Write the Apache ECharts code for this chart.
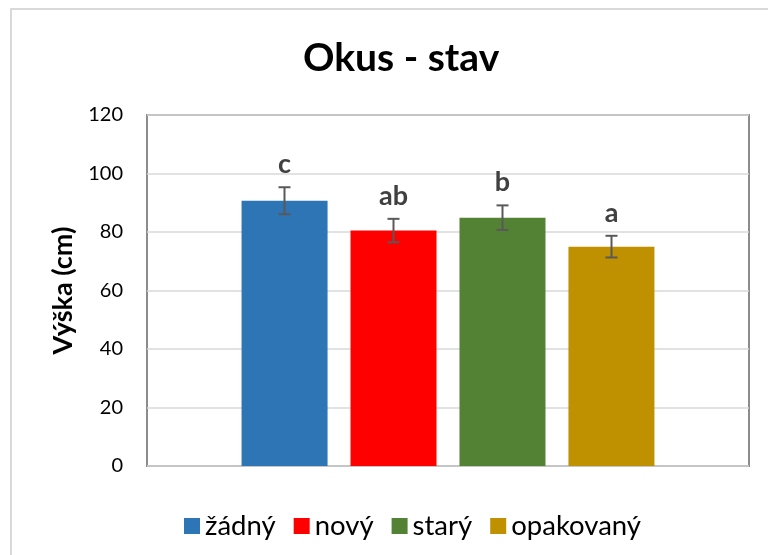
<!DOCTYPE html>
<html>
	<head>
		<meta charset="utf-8" />
		<title>Okus - stav</title>
		<script type="text/javascript" src="https://cdn.jsdelivr.net/npm/echarts@6/dist/echarts.min.js"></script>
	</head>
	<body style="margin:0;">
		<div id="chart" style="width:768px;height:555px;"></div>
	</body>
	<script>
	var groups = ['žádný', 'nový', 'starý', 'opakovaný'];
	var means = [90.7, 80.5, 84.9, 75.0];
	var errors = [4.6, 4.0, 4.2, 3.7];
	var letters = ['c', 'ab', 'b', 'a'];
	var colors = ['#2E75B6', '#FF0000', '#548235', '#BF9000'];
	var yTicks = [0, 120, 20];

	var barW = 86, barSpace = 23;
	var font = 'Lato, "Open Sans", sans-serif';

	var myChart = echarts.init(document.getElementById('chart'), null, { renderer: 'canvas' });

	var series = groups.map(function (name, i) {
		return {
			name: name,
			type: 'bar',
			data: [means[i]],
			barWidth: barW,
			barGap: (barSpace / barW * 100).toFixed(1) + '%',
			itemStyle: { color: colors[i] }
		};
	});

	// error bars + letters
	series.push({
		type: 'custom',
		z: 10,
		data: means.map(function (m, i) { return [i, m - errors[i], m + errors[i]]; }),
		renderItem: function (params, api) {
			var i = api.value(0);
			var lo = api.coord([0, api.value(1)]);
			var hi = api.coord([0, api.value(2)]);
			var x = lo[0] + (i - 1.5) * (barW + barSpace);
			var cap = 6;
			var st = { stroke: '#595959', lineWidth: 2 };
			return {
				type: 'group',
				children: [
					{ type: 'line', shape: { x1: x, y1: hi[1], x2: x, y2: lo[1] }, style: st },
					{ type: 'line', shape: { x1: x - cap, y1: hi[1], x2: x + cap, y2: hi[1] }, style: st },
					{ type: 'line', shape: { x1: x - cap, y1: lo[1], x2: x + cap, y2: lo[1] }, style: st },
					{ type: 'text', style: {
						text: letters[i], x: x, y: hi[1] - 23,
						align: 'center', verticalAlign: 'middle',
						font: 'bold 27px ' + font, fill: '#404040'
					} }
				]
			};
		}
	});

	var option = {
		animation: false,
		title: {
			text: 'Okus - stav',
			left: 298,
			top: 34,
			textStyle: { fontFamily: font, fontSize: 39, fontWeight: 'bold', color: '#000' }
		},
		legend: {
			data: groups,
			top: 507,
			left: 179,
			icon: 'rect',
			itemWidth: 16,
			itemHeight: 16,
			itemGap: 18,
			textStyle: { fontFamily: font, fontSize: 27.5, color: '#000' }
		},
		graphic: [{
			type: 'rect',
			shape: { x: 11, y: 9, width: 800, height: 600 },
			style: { fill: 'none', stroke: '#d9d9d9', lineWidth: 2 }
		}],
		grid: {
			left: 147, right: 19, top: 115, bottom: 89,
			show: true,
			borderColor: '#8c8c8c',
			borderWidth: 2
		},
		xAxis: {
			type: 'category',
			data: [''],
			axisLine: { show: false },
			axisTick: { show: false },
			axisLabel: { show: false }
		},
		yAxis: {
			type: 'value',
			min: yTicks[0],
			max: yTicks[1],
			interval: yTicks[2],
			name: 'Výška (cm)',
			nameLocation: 'middle',
			nameGap: 70,
			nameTextStyle: { fontFamily: font, fontSize: 27, fontWeight: 'bold', color: '#000' },
			axisLine: { show: false },
			axisTick: { show: false },
			axisLabel: { margin: 24, fontFamily: font, fontSize: 20, color: '#000' },
			splitLine: { lineStyle: { color: '#d9d9d9', width: 1.5 } }
		},
		series: series
	};
	myChart.setOption(option);
	window.addEventListener('resize', myChart.resize);
	</script>
</html>
